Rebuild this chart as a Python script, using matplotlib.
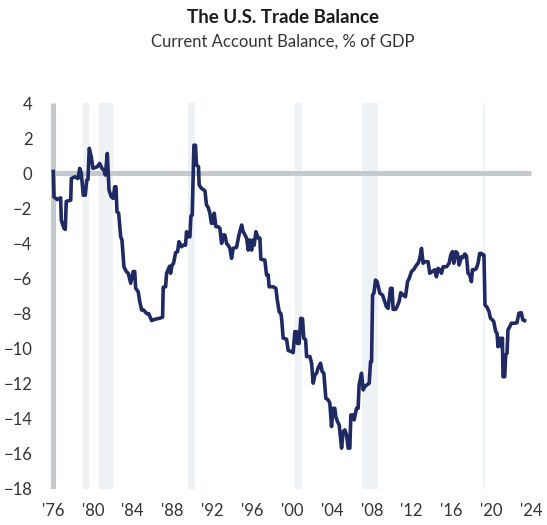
import numpy as np
import matplotlib
matplotlib.use("Agg")
import matplotlib.pyplot as plt

#Data:------------------------------------------------------------------------

years = [1976.03, 1976.1, 1976.43, 1976.77, 1976.83, 1977.1, 1977.23, 1977.33, 1977.78, 1977.84,
         1978.18, 1978.51, 1978.68, 1978.84, 1979.04, 1979.24, 1979.38, 1979.51, 1979.64, 1979.84,
         1980.01, 1980.44, 1980.68, 1980.91, 1981.12, 1981.25, 1981.45, 1981.62, 1981.85, 1982.05,
         1982.19, 1982.32, 1982.42, 1982.59, 1982.79, 1982.92, 1983.12, 1983.35, 1983.55, 1983.8,
         1984.05, 1984.2, 1984.3, 1984.55, 1984.7, 1984.9, 1985.1, 1985.4, 1985.6, 1985.9,
         1986.05, 1986.4, 1986.7, 1987.0, 1987.06, 1987.3, 1987.4, 1987.55, 1987.7, 1987.8,
         1987.95, 1988.1, 1988.3, 1988.5, 1988.64, 1988.9, 1989.07, 1989.3, 1989.4, 1989.57,
         1989.74, 1989.84, 1989.97, 1990.14, 1990.3, 1990.4, 1990.6, 1990.67, 1990.9, 1991.25,
         1991.4, 1991.58, 1991.75, 1991.9, 1992.08, 1992.18, 1992.35, 1992.58, 1992.75, 1992.92,
         1993.08, 1993.25, 1993.42, 1993.58, 1993.75, 1993.92, 1994.08, 1994.42, 1994.66, 1994.93,
         1995.09, 1995.43, 1995.59, 1995.76, 1995.93, 1996.09, 1996.19, 1996.36, 1996.59, 1996.76,
         1996.86, 1997.26, 1997.43, 1997.59, 1997.69, 1998.1, 1998.37, 1998.5, 1998.7, 1998.87,
         1998.94, 1999.1, 1999.44, 1999.6, 1999.94, 2000.1, 2000.27, 2000.44, 2000.54, 2000.7,
         2000.87, 2001.04, 2001.17, 2001.35, 2001.45, 2001.78, 2001.95, 2002.11, 2002.28, 2002.45,
         2002.61, 2002.85, 2003.01, 2003.18, 2003.38, 2003.61, 2003.78, 2003.95, 2004.11, 2004.28,
         2004.38, 2004.55, 2004.72, 2004.96, 2005.12, 2005.29, 2005.46, 2005.62, 2005.79, 2005.89,
         2006.12, 2006.22, 2006.46, 2006.62, 2006.72, 2006.96, 2007.13, 2007.29, 2007.73, 2007.87,
         2007.97, 2008.07, 2008.2, 2008.37, 2008.53, 2008.8, 2009.07, 2009.3, 2009.46, 2009.63,
         2009.87, 2010.03, 2010.13, 2010.37, 2010.53, 2010.73, 2010.9, 2011.13, 2011.37, 2011.58,
         2011.74, 2011.98, 2012.21, 2012.48, 2012.64, 2012.81, 2012.98, 2013.14, 2013.31, 2013.64,
         2013.81, 2014.08, 2014.31, 2014.48, 2014.64, 2014.81, 2014.98, 2015.15, 2015.49, 2015.75,
         2015.92, 2016.09, 2016.22, 2016.42, 2016.59, 2016.75, 2016.99, 2017.15, 2017.32, 2017.49,
         2017.65, 2017.82, 2017.99, 2018.09, 2018.32, 2018.49, 2018.65, 2018.82, 2018.99, 2019.15,
         2019.25, 2019.35, 2019.56, 2019.76, 2019.9, 2020.1, 2020.23, 2020.43, 2020.56, 2020.66,
         2020.83, 2021.0, 2021.1, 2021.16, 2021.33, 2021.43, 2021.56, 2021.66, 2021.83, 2022.0,
         2022.33, 2022.56, 2022.76, 2022.99, 2023.15, 2023.32]

balance = [0.1, -1.35, -1.5, -1.4, -2.67, -3.14, -3.2, -1.6, -1.53, -0.3,
           -0.2, -0.3, 0.28, 0.0, -1.25, -1.25, -0.4, -0.35, 1.42, 0.94,
           0.28, 0.37, 0.56, 0.28, 0.18, -0.1, 1.13, -0.96, -1.34, -1.43,
           -0.77, -0.77, -2.19, -2.28, -3.62, -3.8, -5.33, -5.6, -5.7, -6.27,
           -5.6, -5.6, -6.56, -6.75, -7.3, -7.8, -7.8, -8.0, -8.0, -8.4,
           -8.36, -8.3, -8.27, -8.2, -6.5, -6.47, -5.7, -5.5, -5.3, -5.7,
           -5.23, -5.13, -4.53, -4.47, -3.9, -4.19, -4.1, -4.1, -3.33, -3.62,
           -3.62, -2.44, -2.38, 1.6, 1.6, 0.47, 0.37, -0.67, -0.86, -1.0,
           -1.8, -1.95, -2.3, -2.85, -2.85, -2.28, -3.05, -3.05, -3.14, -4.0,
           -3.52, -3.52, -4.0, -4.1, -4.28, -4.85, -4.28, -4.22, -3.52, -2.95,
           -3.33, -3.7, -4.38, -3.8, -4.38, -3.8, -4.1, -3.33, -3.7, -3.7,
           -4.9, -4.95, -5.8, -5.8, -6.47, -6.47, -6.56, -7.2, -7.9, -8.0,
           -8.27, -9.4, -9.46, -10.1, -10.17, -10.23, -9.03, -9.03, -9.7, -9.7,
           -8.27, -8.3, -9.4, -9.5, -10.45, -10.45, -10.83, -11.97, -11.5, -11.4,
           -11.1, -10.83, -11.3, -11.4, -12.83, -12.92, -13.1, -14.44, -13.4, -13.4,
           -13.87, -14.16, -14.35, -15.67, -14.73, -14.63, -14.92, -15.67, -15.67, -13.78,
           -13.78, -14.06, -13.4, -13.4, -12.07, -11.4, -12.35, -12.16, -11.97, -10.74,
           -10.74, -6.94, -6.84, -6.09, -6.18, -6.84, -6.94, -7.32, -7.6, -7.7,
           -6.56, -6.56, -7.76, -7.76, -7.6, -7.32, -6.81, -6.94, -7.04, -6.18,
           -6.0, -5.6, -5.48, -5.23, -5.13, -4.85, -4.28, -5.13, -5.04, -5.04,
           -5.7, -5.6, -5.5, -5.9, -5.42, -5.5, -5.7, -5.33, -5.33, -5.13,
           -4.66, -4.47, -5.13, -4.47, -4.57, -5.23, -4.76, -4.8, -4.6, -4.7,
           -5.7, -5.8, -6.18, -5.5, -5.5, -5.42, -5.13, -4.57, -4.57, -4.66,
           -4.66, -7.51, -7.64, -7.89, -8.27, -8.36, -8.46, -9.03, -9.12, -9.89,
           -9.4, -9.89, -9.4, -11.6, -11.6, -10.36, -10.26, -8.93, -8.75, -8.55,
           -8.55, -8.52, -7.98, -7.95, -8.36, -8.4]

# shaded bands as they sit on the chart's year axis
band_start = [1979.0, 1980.6, 1989.57, 2000.3, 2007.0, 2019.2]
band_end = [1979.6, 1982.0, 1990.3, 2001.0, 2008.6, 2019.4]

tick_years = list(range(1976, 2025, 4))
tick_labels = ["'%02d" % (y % 100) for y in tick_years]
y_ticks = list(range(-18, 5, 2))

#Plot:------------------------------------------------------------------------

plt.rcParams['font.family'] = ['Lato', 'DejaVu Sans']

fig = plt.figure(figsize=(5.47, 5.25), dpi=100)
ax = fig.add_axes([0.0896, 0.0686, 0.889, 0.735])

for s, e in zip(band_start, band_end):
    ax.axvspan(s, e, color='#eff2f4', lw=0, zorder=0)

ax.plot([1976, 2024], [0, 0], color='#c3c9cc', lw=3.6, solid_capstyle='butt', zorder=1)
ax.plot([1976, 1976], [-18, 4], color='#c3c9cc', lw=3.6, solid_capstyle='butt', zorder=1)

ax.plot(years, balance, color='#1f2a63', lw=2.6, zorder=3)

ax.set_xlim(1975.6, 2024.4)
ax.set_ylim(-18, 4)
ax.set_xticks(tick_years)
ax.set_xticklabels(tick_labels)
ax.set_yticks(y_ticks)
ax.tick_params(length=0, labelsize=12, labelcolor='#333333')
ax.tick_params(axis='y', pad=12)
ax.tick_params(axis='x', pad=10)
for sp in ax.spines.values():
    sp.set_visible(False)

fig.text(0.517, 0.967, "The U.S. Trade Balance", ha='center', va='center',
         fontsize=13.5, fontweight='bold', color='#1a1a1a')
fig.text(0.517, 0.92, "Current Account Balance, % of GDP", ha='center', va='center',
         fontsize=12, color='#333333')

fig.savefig("out.png", dpi=100)
